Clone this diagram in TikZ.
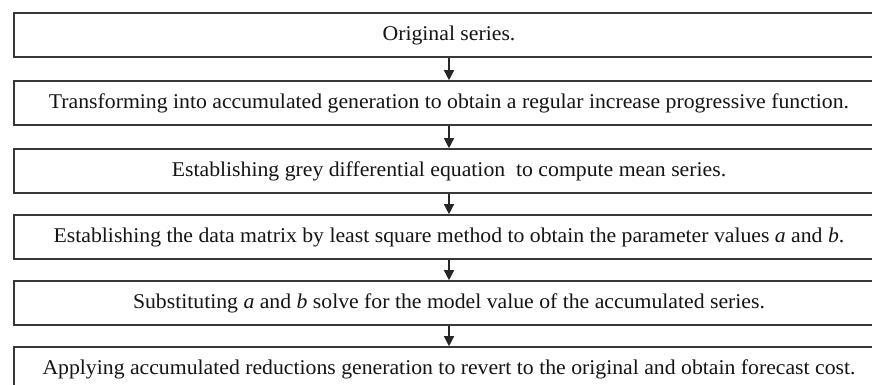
\documentclass[tikz,border=0pt]{standalone}
\usepackage{fontspec}
\setmainfont{Liberation Serif}[FakeStretch=1.035]
\usetikzlibrary{arrows.meta}
\begin{document}
\begin{tikzpicture}[x=1pt,y=1pt,
  stepbox/.style={draw=black!78, line width=1.6pt, minimum width=870pt, minimum height=44pt,
    inner sep=0pt, text=black!92, font=\fontsize{21}{25}\selectfont},
  flow/.style={draw=black!85, line width=1.3pt, -{Triangle[length=10pt,width=10pt]}}]
\useasboundingbox (0,0) rectangle (872,-385);
\clip (0,0) rectangle (872,-385);
\fill[white] (0,0) rectangle (872,-385);
\node[stepbox] (b1) at (449,-35) {Original series.};
\node[stepbox] (b2) at (449,-103) {Transforming into accumulated generation to obtain a regular increase progressive function.};
\node[stepbox] (b3) at (449,-171) {Establishing grey differential equation\ \ to compute mean series.};
\node[stepbox] (b4) at (449,-237) {Establishing the data matrix by least square method to obtain the parameter values \textit{a} and \textit{b}.};
\node[stepbox] (b5) at (449,-303) {Substituting \textit{a} and \textit{b} solve for the model value of the accumulated series.};
\node[stepbox] (b6) at (449,-369) {Applying accumulated reductions generation to revert to the original and obtain forecast cost.};
\draw[flow] (b1.south) -- (b2.north);
\draw[flow] (b2.south) -- (b3.north);
\draw[flow] (b3.south) -- (b4.north);
\draw[flow] (b4.south) -- (b5.north);
\draw[flow] (b5.south) -- (b6.north);
\end{tikzpicture}
\end{document}
